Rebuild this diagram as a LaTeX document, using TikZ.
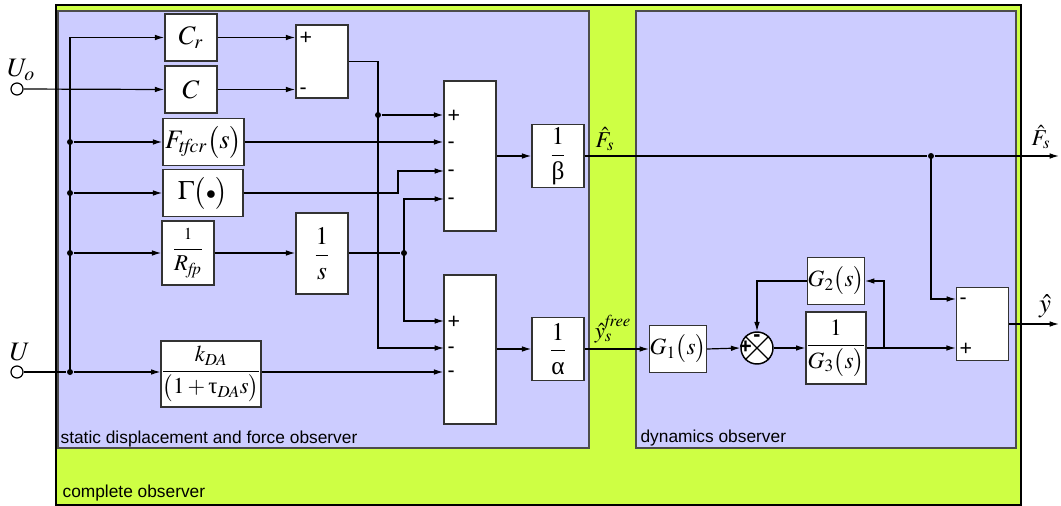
\documentclass[tikz,border=0pt]{standalone}
\usepackage{mathptmx}
\usepackage[no-math]{fontspec}
\setmainfont{Liberation Serif}
\setsansfont{Liberation Sans}
\usetikzlibrary{arrows.meta,calc}
\definecolor{obsgreen}{RGB}{206,255,68}
\definecolor{obsblue}{RGB}{204,204,255}
\begin{document}
\begin{tikzpicture}[x=0.75pt,y=-0.75pt,
  line width=0.9pt,
  >={Latex[length=7pt,width=4.2pt]},
  blk/.style={draw=black!80, fill=white, line width=1.1pt, inner sep=0pt},
  sz/.style 2 args={minimum width=#1*0.75pt, minimum height=#2*0.75pt},
  mbig/.style={font=\fontsize{20}{24}\selectfont},
  mmid/.style={font=\fontsize{17.5}{20}\selectfont},
  mfrac/.style={font=\fontsize{19}{22}\selectfont},
  lbl/.style={font=\sffamily\fontsize{13}{15}\selectfont, inner sep=0pt},
  sgnp/.style={font=\sffamily\fontsize{16}{18}\selectfont, inner sep=0pt, anchor=base west, yshift=-5.6pt},
  sgnm/.style={font=\sffamily\fontsize{16}{18}\selectfont, inner sep=0pt, anchor=base west, yshift=-4.3pt},
  dot/.style={circle, fill=black, inner sep=0pt, minimum size=4.5pt},
  port/.style={circle, draw=black, fill=white, inner sep=0pt, minimum size=9pt, line width=0.9pt},
  region/.style={draw=black!70, fill=obsblue, line width=1.1pt}]

\fill[white] (0,0) rectangle (1061,506);
\useasboundingbox (0,0) rectangle (1061,506);

% regions
\draw[fill=obsgreen, line width=1.2pt] (56,5) rectangle (1021,505);
\draw[region] (58,11) rectangle (589,448);
\draw[region] (636,11) rectangle (1016,448);
\node[lbl, anchor=base west] (t1) at (60,443) {static displacement and force observer};
\node[lbl, anchor=base west] (t2) at (640,442) {dynamics observer};
\node[lbl, anchor=base west] (t3) at (62,497) {complete observer};

% inputs
\node[port] (uo) at (17,89) {};
\node[port] (u) at (17,372) {};
\node[mbig, inner sep=0pt] (uol) at (21,70) {$U_o$};
\node[mbig, inner sep=0pt] (ul) at (20,352) {$U$};

% blocks, static observer
\node[blk, sz={52}{47}, mbig] (cr) at (191,37.5) {$C_r$};
\node[blk, sz={52}{47}, mbig] (c) at (191,89.5) {$C$};
\node[blk, sz={52}{73}] (sa) at (322,61.5) {};
\node[blk, sz={81}{47}, mbig] (ft) at (203.5,142) {$F_{\mathit{tfcr}}\bigl(s\bigr)$};
\node[blk, sz={80}{47}, mbig] (gam) at (203,193) {$\Gamma\bigl({\scriptstyle\bullet}\bigr)$};
\node[blk, sz={52}{64}, font=\fontsize{17}{19}\selectfont] (rfp) at (188,253) {$\displaystyle\frac{\scriptstyle 1}{R_{\mathit{fp}}}$};
\node[blk, sz={52}{81}, mfrac] (int) at (322,253.5) {$\displaystyle\frac{1}{s}$};
\node[blk, sz={98}{66}, font=\fontsize{17}{20}\selectfont] (kda) at (211,374) {$\displaystyle\frac{k_{\mathit{DA}}}{\bigl(1+\mbox{τ}_{\mathit{DA}}s\bigr)}$};
\node[blk, sz={52}{150}] (s1) at (470,156) {};
\node[blk, sz={52}{149}] (s2) at (470,349.5) {};
\node[blk, sz={52}{63}, mfrac] (be) at (558,156) {$\displaystyle\frac{1}{\mbox{β}}$};
\node[blk, sz={52}{63}, mfrac] (al) at (558,349) {$\displaystyle\frac{1}{\mbox{α}}$};

% signs
\node[sgnp] (sap) at (299,37) {+};
\node[sgnm] (sam) at (299,89) {-};
\node[sgnp] (s1p) at (447,115) {+};
\node[sgnm] (s1m1) at (447,143) {-};
\node[sgnm] (s1m2) at (447,171) {-};
\node[sgnm] (s1m3) at (447,199) {-};
\node[sgnp] (s2p) at (447,321) {+};
\node[sgnm] (s2m1) at (447,348) {-};
\node[sgnm] (s2m2) at (447,372) {-};

% bus
\node[dot] (d0) at (70,372) {};
\node[dot] (d1) at (70,142) {};
\node[dot] (d2) at (70,193) {};
\node[dot] (d3) at (70,253) {};
\draw (u) -- (d0);
\draw[->] (d0) -- (d0 -| kda.west);
\draw[->] (d0.center) |- (cr.west);
\draw[->] (d1) -- (ft.west);
\draw[->] (d2) -- (gam.west);
\draw[->] (d3) -- (rfp.west);
\draw[->] (uo) -- (c.west);

% static observer wiring
\draw[->] (cr.east) -- (cr.east -| sa.west);
\draw[->] (c.east) -- (c.east -| sa.west);
\node[dot] (d4) at (378,115) {};
\coordinate (s2in2) at (444,348);
\draw (sa.east) -| (d4.center);
\draw[->] (d4.center) |- (s2in2);
\draw[->] (d4) -- (d4 -| s1.west);
\draw[->] (ft.east) -- (ft.east -| s1.west);
\coordinate (k1) at (398,181);
\coordinate (s1in3) at (444,171);
\draw[->] (gam.east) -| (k1) |- (s1in3);
\draw[->] (rfp.east) -- (rfp.east -| int.west);
\node[dot] (d5) at (404,253) {};
\coordinate (s1in4) at (444,199);
\coordinate (s2in1) at (444,321);
\draw (int.east |- d5) -- (d5);
\draw[->] (d5.center) |- (s1in4);
\draw[->] (d5.center) |- (s2in1);
\draw[->] (kda.east |- d0) -- (d0 -| s2.west);
\draw[->] (s1.east) -- (be.west);
\draw[->] (al.west -| s2.east) -- (al.west);

% dynamics observer
\node[blk, sz={52}{47}, mmid] (g1) at (678,349) {$G_1\bigl(s\bigr)$};
\node[circle, draw=black, fill=white, line width=1.1pt, minimum size=24pt, inner sep=0pt] (sm) at (757,348) {};
\draw[line width=0.9pt] (sm.north west) -- (sm.south east) (sm.north east) -- (sm.south west);
\node[font=\sffamily\bfseries\fontsize{16}{18}\selectfont, inner sep=0pt] (smp) at (745.5,347.5) {+};
\node[font=\sffamily\bfseries\fontsize{16}{18}\selectfont, inner sep=0pt] (smm) at (757,338.5) {-};
\node[blk, sz={52}{72}, mmid] (g3) at (836,348) {$\displaystyle\frac{1}{G_3\bigl(s\bigr)}$};
\node[blk, sz={52}{47}, mmid] (g2) at (836,281) {$G_2\bigl(s\bigr)$};
\node[blk, sz={52}{73}] (s3) at (982.5,324) {};
\node[sgnm] (s3m) at (959,299) {-};
\node[sgnp] (s3p) at (959,348) {+};

\draw[->] (al.east) -- (g1.west);
\draw[->] (g1.east) -- (sm.west);
\draw[->] (sm.east) -- (g3.west);
\draw[->] (g3.east) -- (g3.east -| s3.west);
\coordinate (b1) at (884,348);
\draw[->] (b1) |- (g2.east);
\draw[->] (g2.west) -| (sm.north);

% outputs
\node[dot] (d6) at (931,156) {};
\coordinate (fout) at (1059,156);
\coordinate (yout) at (1059,324);
\coordinate (s3in1) at (956,299);
\draw (be.east) -- (d6);
\draw[->] (d6) -- (fout);
\draw[->] (d6.center) |- (s3in1);
\draw[->] (s3.east) -- (yout);

% signal labels
\node[font=\fontsize{17}{20}\selectfont, inner sep=0pt] (lf1) at (605,139) {$\hat{F}_s$};
\node[font=\fontsize{17}{20}\selectfont, inner sep=0pt] (ly1) at (613,329) {$\hat{y}_s^{\mathit{free}}$};
\node[font=\fontsize{17}{20}\selectfont, inner sep=0pt] (lf2) at (1041,137) {$\hat{F}_s$};
\node[font=\fontsize{20}{24}\selectfont, inner sep=0pt] (ly2) at (1045,306) {$\hat{y}$};
\end{tikzpicture}
\end{document}
